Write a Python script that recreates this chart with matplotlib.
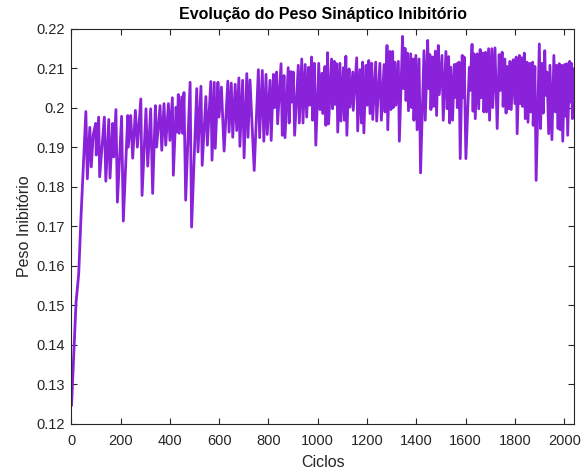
import numpy as np
import matplotlib
matplotlib.use("Agg")
import matplotlib.pyplot as plt
from matplotlib.ticker import FuncFormatter

# cycles and inhibitory weight (peaks and dips)
ciclos = [
    1, 19, 30, 39, 59,
    65, 75, 81, 89, 99, 101, 111, 115, 134, 140, 152, 157, 168, 172, 181, 187,
    204, 211, 229, 231, 241, 249, 260, 268, 282, 287, 303, 310, 322, 330, 341,
    346, 360, 367, 376, 383, 394, 400, 410, 414, 425, 430, 434, 438, 448, 452,
    457, 464, 482, 488, 509, 514, 526, 531, 546, 552, 566, 571, 580, 584, 595,
    599, 609, 620, 635, 640, 649, 655, 665, 671,
    680, 684, 695, 701, 712, 717, 725, 742, 759, 764, 775, 781, 790, 795, 806,
    811, 820, 825, 833, 837, 851, 856, 863, 867, 880, 884, 891, 895, 901, 906,
    921, 925, 935, 940, 949, 955, 963, 967, 975, 979, 986, 992, 1004, 1009,
    1017, 1021, 1029, 1033, 1040, 1044, 1056, 1060, 1067, 1071, 1077, 1081,
    1090, 1094, 1104, 1108, 1114, 1118, 1127, 1131, 1142, 1144, 1158, 1162,
    1171, 1177, 1182, 1187, 1196, 1201, 1207, 1212, 1219, 1223, 1235, 1239,
    1252, 1258, 1269, 1273, 1281, 1284, 1293, 1297, 1304, 1306, 1313, 1317,
    1327, 1331, 1344, 1348, 1354, 1358, 1364, 1368, 1377, 1381, 1388, 1390,
    1398, 1403, 1411, 1417, 1431, 1436, 1446, 1450, 1455, 1459, 1466, 1470,
    1477, 1482, 1489, 1493, 1504, 1509, 1520, 1525, 1531, 1535, 1540, 1547,
    1554, 1558, 1564, 1566, 1573, 1578, 1586, 1590, 1594, 1601, 1615, 1618,
    1626, 1630, 1634, 1639, 1647, 1653, 1659, 1663, 1670, 1674, 1681, 1685,
    1693, 1697, 1706, 1710, 1719, 1728, 1736, 1740, 1748, 1752, 1759, 1764,
    1769, 1775, 1780, 1785, 1793, 1800, 1805, 1809, 1818, 1822, 1828, 1831,
    1838, 1842, 1849, 1853, 1861, 1864, 1872, 1874, 1881, 1886, 1899, 1904,
    1910, 1915, 1921, 1925, 1930, 1937, 1942, 1950, 1958, 1964, 1969, 1975,
    1980, 1984, 1990, 1994, 2002, 2006, 2010, 2014, 2022, 2026, 2029, 2033,
    2040,
]
peso = [
    0.1248, 0.1506, 0.1580, 0.1720, 0.1990,
    0.1820, 0.1950, 0.1850, 0.1932, 0.1960, 0.1880, 0.1976, 0.1825, 0.1976,
    0.1814, 0.1970, 0.1822, 0.1960, 0.1875, 0.1995, 0.1761,
    0.1978, 0.1713, 0.1980, 0.1900, 0.1980, 0.1872, 0.1993, 0.1900, 0.2022,
    0.1778, 0.1997, 0.1852, 0.1997, 0.1783, 0.2005,
    0.1900, 0.2005, 0.1892, 0.2010, 0.1905, 0.2010, 0.1917, 0.2025, 0.1829,
    0.2001, 0.1938, 0.2033, 0.1935, 0.2027, 0.1935,
    0.2038, 0.1766, 0.2064, 0.1698, 0.2048, 0.1888, 0.2054, 0.1854, 0.2028,
    0.1905, 0.2066, 0.1867, 0.2064, 0.1897, 0.2064,
    0.1976, 0.2052, 0.1890, 0.2067, 0.1938, 0.2062, 0.1925, 0.2059, 0.1942,
    0.2075, 0.1902, 0.2069, 0.1873, 0.2086, 0.1925, 0.2070, 0.1841, 0.2096,
    0.1924, 0.2094, 0.1915, 0.2084, 0.1932, 0.2069,
    0.1917, 0.2084, 0.2000, 0.2090, 0.1959, 0.2111, 0.1930, 0.2081, 0.1924,
    0.2101, 0.1961, 0.2091, 0.2014, 0.2090, 0.1930,
    0.2107, 0.1961, 0.2123, 0.1961, 0.2109, 0.1976, 0.2102, 0.2006, 0.2128,
    0.1968, 0.2112, 0.1905, 0.2112, 0.1995,
    0.2087, 0.1985, 0.2104, 0.1955, 0.2139, 0.1959, 0.2123, 0.1997, 0.2117,
    0.2008, 0.2111, 0.1938,
    0.2112, 0.1966, 0.2101, 0.1968, 0.2130, 0.1930, 0.2098, 0.2001, 0.2090,
    0.1993, 0.2126, 0.1941,
    0.2096, 0.1961, 0.2115, 0.1936, 0.2107, 0.2006, 0.2119, 0.1985, 0.2112,
    0.1970, 0.2115, 0.1966,
    0.2112, 0.1968, 0.2109, 0.1989, 0.2157, 0.1944, 0.2142, 0.1995, 0.2142,
    0.2000, 0.2115, 0.2006,
    0.2117, 0.1915, 0.2180, 0.2048, 0.2150, 0.2018, 0.2138, 0.1992, 0.2136,
    0.2000, 0.2123, 0.1968,
    0.2132, 0.1944, 0.2123, 0.1835, 0.2144, 0.1968, 0.2170, 0.2048, 0.2134,
    0.1995, 0.2128, 0.2003,
    0.2143, 0.1980, 0.2157, 0.2033, 0.2132, 0.1968, 0.2142, 0.1997, 0.2129,
    0.1961, 0.2102, 0.1968,
    0.2109, 0.2026, 0.2111, 0.2000, 0.2115, 0.1871, 0.2132, 0.2025, 0.2128,
    0.1871, 0.2102, 0.2043,
    0.2160, 0.1991, 0.2136, 0.1972, 0.2136, 0.1997, 0.2147, 0.2025, 0.2138,
    0.1989, 0.2140, 0.1989,
    0.2149, 0.1968, 0.2149, 0.2000, 0.2151, 0.1947, 0.2134, 0.2043, 0.2140,
    0.2003, 0.2123, 0.1986,
    0.2104, 0.1997, 0.2117, 0.1995, 0.2121, 0.2010, 0.2128, 0.1934, 0.2132,
    0.2010, 0.2126, 0.2003,
    0.2138, 0.1972, 0.2115, 0.1963, 0.2112, 0.1989, 0.2115, 0.1955, 0.2104,
    0.1816, 0.2161, 0.1947,
    0.2112, 0.1986, 0.2144, 0.2031, 0.2090, 0.1934, 0.2107, 0.1919, 0.2132,
    0.1989, 0.2107, 0.1947,
    0.2111, 0.1944, 0.2107, 0.1915, 0.2109, 0.1978, 0.2111, 0.1930, 0.2117,
    0.2014, 0.2112, 0.1972,
    0.2098,
]

x_ticks = [0, 200, 400, 600, 800, 1000, 1200, 1400, 1600, 1800, 2000]
y_ticks = [0.12, 0.13, 0.14, 0.15, 0.16, 0.17, 0.18, 0.19, 0.20, 0.21, 0.22]

plt.rcParams['font.family'] = ['Liberation Sans', 'DejaVu Sans']
cor_eixo = '#262626'

fig = plt.figure(figsize=(5.87, 4.72), dpi=100)
ax = fig.add_axes([0.1215, 0.1017, 0.8565, 0.8379])

ax.plot(ciclos, peso, color='#8A22DA', linewidth=2.0)

ax.set_xlim(0, 2040)
ax.set_ylim(0.12, 0.22)
ax.set_xticks(x_ticks)
ax.set_yticks(y_ticks)
ax.yaxis.set_major_formatter(FuncFormatter(lambda v, p: f"{v:g}"))

ax.tick_params(axis='both', direction='in', length=4, width=0.8, top=True,
               right=True, labelsize=10.5, colors=cor_eixo)
ax.tick_params(axis='x', pad=7)
ax.tick_params(axis='y', pad=5)
for s in ax.spines.values():
    s.set_color(cor_eixo)
    s.set_linewidth(0.8)

ax.set_xlabel('Ciclos', fontsize=11.5, color=cor_eixo, labelpad=5)
ax.set_ylabel('Peso Inibitório', fontsize=11.5, color=cor_eixo, labelpad=3)
ax.set_title('Evolução do Peso Sináptico Inibitório', fontsize=11.5,
             fontweight='bold', color='black', pad=7)

fig.savefig('out.png', dpi=100)
